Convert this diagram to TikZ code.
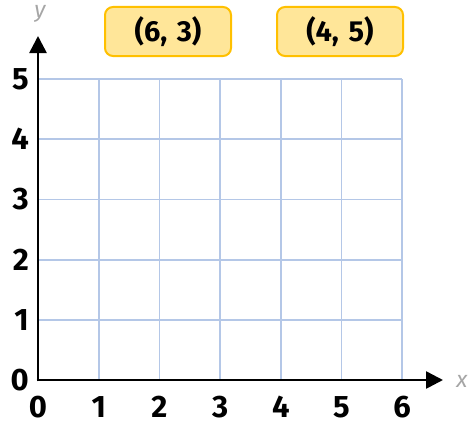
\documentclass[tikz,border=0pt]{standalone}
\usepackage{fontspec}
\setmainfont{Fira Sans}
\usetikzlibrary{arrows.meta,calc}
\definecolor{gridblue}{HTML}{B4C7E7}
\definecolor{boxfill}{HTML}{FFE699}
\definecolor{boxdraw}{HTML}{FFC000}
\definecolor{axlabel}{HTML}{A6A6A6}
\tikzset{
  gridline/.style={draw=gridblue, line width=1.8pt},
  axis/.style={draw=black, line width=2.6pt, -{Triangle[length=17pt,width=17pt]}},
  num/.style={font=\fontsize{31}{31}\selectfont\bfseries, inner sep=0pt},
  varname/.style={font=\fontsize{23}{23}\selectfont\itshape, text=axlabel, inner sep=0pt},
  pairbox/.style={draw=boxdraw, fill=boxfill, line width=2pt, rounded corners=8pt,
    minimum width=126pt, minimum height=49pt, font=\fontsize{29}{29}\selectfont\bfseries, inner sep=0pt}
}
\begin{document}
\begin{tikzpicture}[x=1pt,y=-1pt]
\useasboundingbox (0,0) rectangle (470,428);
% grid
\foreach \i in {0,...,6} {
  \draw[gridline] ({38+60.7*\i},380) -- ({38+60.7*\i},79);
}
\foreach \j in {0,...,5} {
  \draw[gridline] (38,{380-60.2*\j}) -- (402.2,{380-60.2*\j});
}
% axes
\coordinate (O) at (38,380);
\coordinate (xend) at (443,380);
\coordinate (yend) at (38,36);
\draw[axis] ($(O)+(-1.3,0)$) -- (xend);
\draw[axis] ($(O)+(0,1.3)$) -- (yend);
% tick labels
\foreach \i in {0,...,6} {
  \node[num] (xl\i) at ({38+60.7*\i},407) {\i};
}
\foreach \j in {0,...,5} {
  \node[num, anchor=east] (yl\j) at (29,{380-60.2*\j}) {\j};
}
\node[varname] (xn) at (462,381) {x};
\node[varname] (yn) at (40,14) {y};
% boxes
\node[pairbox] (p1) at (168,31.5) {(6,\,\,3)};
\node[pairbox] (p2) at (340,31.5) {(4,\,\,5)};
\end{tikzpicture}
\end{document}
